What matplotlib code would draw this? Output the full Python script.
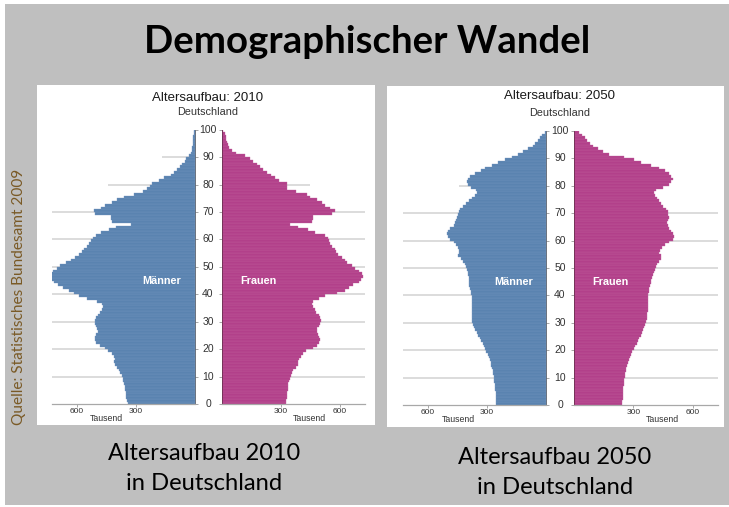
import matplotlib
matplotlib.use("Agg")
import matplotlib.pyplot as plt
from matplotlib.patches import Rectangle
import numpy as np

# ---------------- data (thousands of persons, ages 0..99) ----------------
ages = np.arange(100)
age_ticks = list(range(0, 101, 10))
x_ticks = [300, 600]

male_2010 = [337, 343, 347, 350, 351, 353, 356, 359, 362, 366,
             371, 378, 386, 393, 405, 410, 404, 412, 420, 440,
             455, 480, 500, 505, 507, 500, 490, 495, 503, 506,
             507, 500, 490, 482, 472, 463, 470, 495, 545, 590,
             612, 639, 668, 692, 715, 730, 740, 735, 722, 702,
             682, 655, 630, 608, 590, 572, 560, 548, 537, 528,
             517, 503, 478, 437, 400, 325, 420, 427, 427, 505,
             512, 478, 453, 419, 393, 359, 308, 262, 240, 224,
             215, 181, 156, 122, 105, 88, 75, 63, 49, 41,
             29, 19, 15, 12, 10, 8, 7, 6, 5, 4]

female_2010 = [327, 329, 331, 332, 334, 336, 339, 339, 344, 347,
               353, 359, 364, 376, 386, 390, 393, 403, 415, 427,
               466, 483, 492, 500, 495, 488, 483, 483, 492, 500,
               503, 500, 492, 480, 475, 466, 458, 466, 492, 525,
               585, 627, 647, 669, 695, 708, 715, 712, 695, 678,
               661, 636, 624, 610, 593, 580, 573, 559, 551, 546,
               542, 525, 475, 441, 390, 347, 458, 466, 466, 559,
               576, 551, 525, 508, 483, 449, 432, 380, 330, 330,
               330, 292, 271, 249, 229, 212, 195, 178, 161, 144,
               119, 76, 51, 37, 32, 29, 25, 22, 17, 10]

male_2050 = [253, 254, 255, 256, 257, 258, 259, 261, 263, 265,
             267, 269, 271, 275, 279, 283, 288, 293, 298, 304,
             310, 316, 322, 330, 338, 346, 354, 362, 368, 373,
             376, 378, 378, 378, 378, 378, 378, 378, 378, 379,
             381, 384, 388, 390, 390, 391, 393, 396, 398, 402,
             407, 415, 422, 432, 447, 441, 444, 449, 458, 467,
             488, 500, 504, 497, 487, 470, 462, 456, 452, 450,
             444, 436, 424, 407, 390, 378, 364, 352, 356, 381,
             398, 403, 398, 385, 361, 333, 309, 275, 244, 207,
             176, 142, 116, 91, 70, 56, 43, 31, 22, 9]

female_2050 = [244, 245, 246, 247, 248, 249, 250, 251, 253, 255,
               257, 259, 261, 264, 268, 273, 278, 283, 289, 295,
               302, 309, 316, 322, 329, 336, 343, 350, 355, 359,
               364, 368, 370, 371, 372, 372, 372, 372, 372, 373,
               375, 378, 381, 384, 388, 390, 393, 398, 404, 410,
               415, 420, 430, 438, 441, 428, 432, 447, 460, 480,
               501, 506, 502, 492, 482, 475, 472, 475, 478, 477,
               475, 465, 452, 438, 428, 418, 407, 403, 415, 449,
               478, 492, 501, 492, 478, 458, 427, 389, 341, 304,
               252, 175, 146, 123, 98, 81, 67, 55, 38, 25]

slide_title = "Demographischer Wandel"
source_text = "Quelle: Statistisches Bundesamt 2009"
chart_title = "Altersaufbau: {}"
chart_sub = "Deutschland"
caption = ["Altersaufbau {}", "in Deutschland"]
men_label, women_label, unit_label = "Männer", "Frauen", "Tausend"

# ---------------- styling / layout ----------------
W, H = 729, 507
MALE_C, MALE_E = "#5a83b0", "#7596c0"
FEM_C, FEM_E = "#b2408a", "#c0609d"
GRID_C = "#d2d2d2"
SANS = ["Liberation Sans", "DejaVu Sans"]
SLIDE = ["Lato", "DejaVu Sans"]
XMAX = 725

fig = plt.figure(figsize=(W / 100, H / 100), dpi=100)
fig.patch.set_facecolor("white")


def fx(x):
    return x / W


def fy(y):
    return 1 - y / H


def px_rect(x0, y0, x1, y1):
    return [fx(x0), fy(y1), (x1 - x0) / W, (y1 - y0) / H]


fig.add_artist(Rectangle((fx(5), fy(505)), (W - 5) / W, 501 / H,
                         transform=fig.transFigure, facecolor="#bfbfbf",
                         edgecolor="none", zorder=0))

renderer = fig.canvas.get_renderer()


def fit_text(x, y, s, target, dim="w", **kw):
    t = fig.text(fx(x), fy(y), s, **kw)
    ext = t.get_window_extent(renderer)
    cur = ext.width if dim == "w" else ext.height
    t.set_fontsize(t.get_fontsize() * target / cur)
    return t


fit_text(367, 42, slide_title, 445, ha="center", va="center",
         fontsize=28, fontweight="bold", family=SLIDE, color="black", zorder=5)

fit_text(19, 297, source_text, 258, dim="h", rotation=90, ha="center",
         va="center", fontsize=9, family=SLIDE, color="#7a5a26", zorder=5)

panels = [
    dict(year=2010, male=male_2010, female=female_2010,
         box=(37, 85, 375, 425), mx=(52, 194.5), fxr=(221.5, 364.5),
         y0=404.3, y100=129.6, tx=208, ty=98, sy=112,
         men=(162, 281), women=(258, 281),
         cap_x=204, cap_y=(454, 484), cap_w=(193, 157),
         part_l={80: 440, 90: 165}, part_r={80: 450}),
    dict(year=2050, male=male_2050, female=female_2050,
         box=(387, 86, 724, 427), mx=(403.4, 546.3), fxr=(574, 717.5),
         y0=405, y100=131, tx=560, ty=96, sy=113,
         men=(514, 282), women=(610, 282),
         cap_x=555, cap_y=(457, 487), cap_w=(194, 157),
         part_l={80: 445}, part_r={}),
]

for p in panels:
    x0, y0b, x1, y1b = p["box"]
    fig.add_artist(Rectangle((fx(x0), fy(y1b)), (x1 - x0) / W, (y1b - y0b) / H,
                             transform=fig.transFigure, facecolor="white",
                             edgecolor="none", zorder=1))
    sides = [("m", p["mx"], p["male"], MALE_C, MALE_E, p["part_l"]),
             ("f", p["fxr"], p["female"], FEM_C, FEM_E, p["part_r"])]
    for side, (ax0, ax1), vals, c, ec, part in sides:
        ax = fig.add_axes(px_rect(ax0, p["y100"], ax1, p["y0"]))
        ax.set_zorder(3)
        ax.patch.set_visible(False)
        ax.set_ylim(0, 100)
        ax.set_xlim((XMAX, 0) if side == "m" else (0, XMAX))
        ax.hlines([a for a in age_ticks if 0 < a <= 70], 0, XMAX,
                  color=GRID_C, lw=1.1, zorder=0)
        for a, ln in part.items():
            ax.hlines(a, 0, ln, color=GRID_C, lw=1.1, zorder=0)
        ax.barh(ages, vals, height=1.0, align="edge", color=c,
                edgecolor=ec, linewidth=0.25, zorder=2)
        for s in ax.spines.values():
            s.set_visible(False)
        ax.spines["bottom"].set_visible(True)
        ax.spines["bottom"].set_color("#a8a8a8")
        ax.spines["bottom"].set_linewidth(0.9)
        inner = "right" if side == "m" else "left"
        ax.spines[inner].set_visible(True)
        ax.spines[inner].set_color("#505a68" if side == "m" else "#6a3050")
        ax.spines[inner].set_linewidth(0.6)
        ax.set_yticks(age_ticks)
        ax.tick_params(axis="y", left=(side == "f"), right=(side == "m"),
                       labelleft=False, labelright=False, length=2,
                       color="#999999", width=0.6)
        ax.set_xticks(x_ticks)
        ax.set_xticklabels([str(v) for v in x_ticks], family=SANS,
                           fontsize=6, color="#333333")
        ax.tick_params(axis="x", length=2, width=0.6, color="#999999", pad=1)
        ax.annotate(unit_label, xy=(447, 0), xycoords=("data", "axes fraction"),
                    xytext=(0, -14), textcoords="offset pixels", ha="center",
                    va="center", fontsize=6.3, family=SANS, color="#333333",
                    annotation_clip=False)
    # centre age labels
    span = p["y0"] - p["y100"]
    for a in age_ticks:
        fig.text(fx(p["tx"]), fy(p["y0"] - span * a / 100), str(a),
                 ha="center", va="center", fontsize=7.5, family=SANS,
                 color="#333333", zorder=5)
    fig.text(fx(p["tx"]), fy(p["ty"]), chart_title.format(p["year"]),
             ha="center", va="center", fontsize=9.5, family=SANS,
             color="#1a1a1a", zorder=5)
    fig.text(fx(p["tx"]), fy(p["sy"]), chart_sub, ha="center", va="center",
             fontsize=7.8, family=SANS, color="#333333", zorder=5)
    fig.text(fx(p["men"][0]), fy(p["men"][1]), men_label, ha="center",
             va="center", fontsize=7.8, fontweight="bold", family=SANS,
             color="white", zorder=6)
    fig.text(fx(p["women"][0]), fy(p["women"][1]), women_label, ha="center",
             va="center", fontsize=7.8, fontweight="bold", family=SANS,
             color="white", zorder=6)
    lines = [caption[0].format(p["year"]), caption[1]]
    for s, cy, cw in zip(lines, p["cap_y"], p["cap_w"]):
        fit_text(p["cap_x"], cy, s, cw, ha="center", va="center",
                 fontsize=16, family=SLIDE, color="black", zorder=5)

fig.savefig("out.png", dpi=100, facecolor=fig.get_facecolor())
